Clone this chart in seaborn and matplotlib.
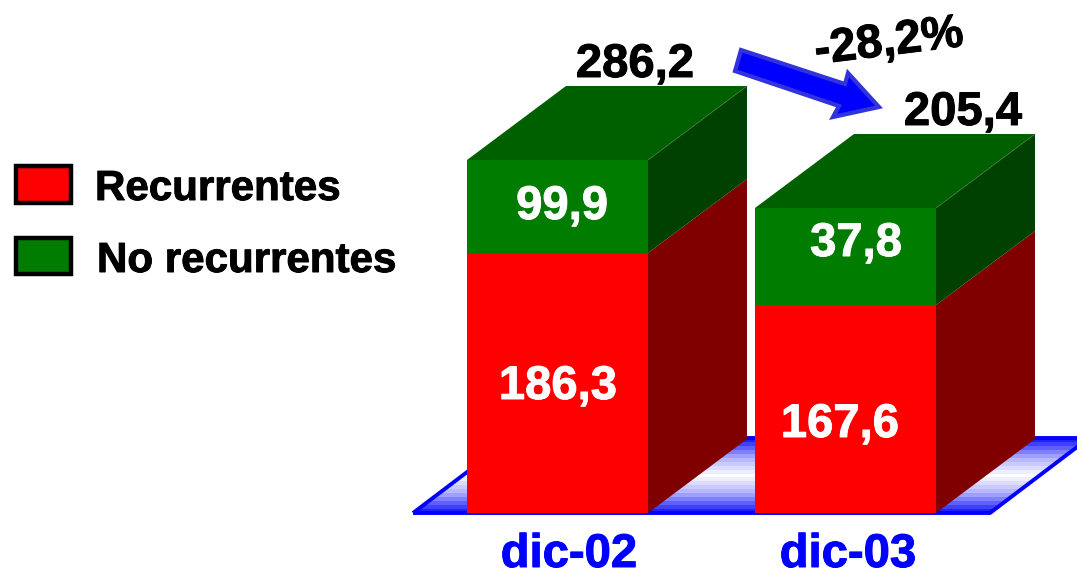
import numpy as np
import seaborn as sns
from matplotlib import patheffects as pe
from matplotlib import pyplot as plt
from matplotlib.patches import Polygon, Rectangle

# values printed on the chart
periods = ['dic-02', 'dic-03']
recurrentes = [186.3, 167.6]
no_recurrentes = [99.9, 37.8]
totals = [286.2, 205.4]
change = '-28,2%'

# the original 3D bars are not to scale, so these are the heights as drawn
red_heights = [260, 208]
green_heights = [93, 97]

BAR_W = 181 / 288
DX, DY = 99 / 288, 74
FONT = 'Liberation Sans'

sns.set_theme(style='white')
plt.rcParams['font.family'] = [FONT, 'DejaVu Sans']

fig = plt.figure(figsize=(10.77, 5.73), dpi=100)
ax = fig.add_axes([0, 0, 1, 1])


def xd(px):
    return (px - 557.5) / 288


def yd(py):
    return 513 - py


def pts(coords):
    return [(xd(x), yd(y)) for x, y in coords]


def fmt(v):
    return f'{v:.1f}'.replace('.', ',')


def label(px, py, s, color='black', size=34, ha='center', **kw):
    ax.text(xd(px), yd(py), s, color=color, fontsize=size, fontweight='bold',
            ha=ha, va='center',
            path_effects=[pe.withStroke(linewidth=0.7, foreground=color)], **kw)


# floor
floor = Polygon(pts([(413, 513), (990, 513), (1089, 438), (512, 438)]), closed=True,
                facecolor='none', edgecolor='#0000ff', linewidth=2.8, joinstyle='round', zorder=2)
ax.add_patch(floor)
bands = np.abs(np.linspace(-1, 1, 19)).reshape(-1, 1)
cmap = sns.blend_palette(['#ffffff', '#b0b0ff', '#2020ff'], as_cmap=True)
img = ax.imshow(bands, cmap=cmap, aspect='auto', interpolation='nearest', zorder=1,
                extent=(xd(413), xd(1089), yd(513), yd(438)))
img.set_clip_path(floor)

# front faces
totals_drawn = [r + g for r, g in zip(red_heights, green_heights)]
sns.barplot(x=periods, y=totals_drawn, color='#007c00', saturation=1, width=BAR_W,
            linewidth=0, ax=ax, zorder=4)
sns.barplot(x=periods, y=red_heights, color='#ff0000', saturation=1, width=BAR_W,
            linewidth=0, ax=ax, zorder=5)

# side and top faces
for i in range(len(periods)):
    r = red_heights[i]
    t = totals_drawn[i]
    x = i + BAR_W / 2
    ax.add_patch(Polygon([(x, 0), (x + DX, DY), (x + DX, r + DY), (x, r)],
                         facecolor='#800000', edgecolor='none', zorder=4))
    ax.add_patch(Polygon([(x, r), (x + DX, r + DY), (x + DX, t + DY), (x, t)],
                         facecolor='#004000', edgecolor='none', zorder=4))
    ax.add_patch(Polygon([(x - BAR_W, t), (x, t), (x + DX, t + DY), (x - BAR_W + DX, t + DY)],
                         facecolor='#006000', edgecolor='none', zorder=4))
    ax.plot([x, x + DX], [t, t + DY], color='#2f7f2f', lw=0.6, zorder=5)

# numbers
label(562, 207, fmt(no_recurrentes[0]), 'white', zorder=6)
label(558, 387, fmt(recurrentes[0]), 'white', zorder=6)
label(856, 244, fmt(no_recurrentes[1]), 'white', zorder=6)
label(840, 425, fmt(recurrentes[1]), 'white', zorder=6)
label(635, 65, fmt(totals[0]))
label(963, 113, fmt(totals[1]))
label(569, 555, periods[0], '#0000ff')
label(848, 555, periods[1], '#0000ff')

# change arrow
ax.add_patch(Polygon(pts([(741, 50), (845, 84), (848, 73), (879, 107), (833, 117),
                          (839, 106), (735, 71)]),
                     facecolor='#0000ff', edgecolor='#3333dd', linewidth=3,
                     joinstyle='miter', zorder=6))
label(889, 43, change, rotation=7, rotation_mode='anchor')

# legend
ax.add_patch(Rectangle((xd(15.5), yd(203)), 55.5 / 288, 37, facecolor='#ff0000',
                       edgecolor='black', linewidth=3.2, joinstyle='miter'))
ax.add_patch(Rectangle((xd(15.5), yd(274)), 55.5 / 288, 36, facecolor='#007c00',
                       edgecolor='black', linewidth=3.2, joinstyle='miter'))
label(95, 189, 'Recurrentes', size=30.3, ha='left')
label(97, 261, 'No recurrentes', size=30.3, ha='left')

ax.set_xlim(xd(0), xd(1077))
ax.set_ylim(yd(573), yd(0))
ax.axis('off')

plt.savefig('out.png', dpi=100)
